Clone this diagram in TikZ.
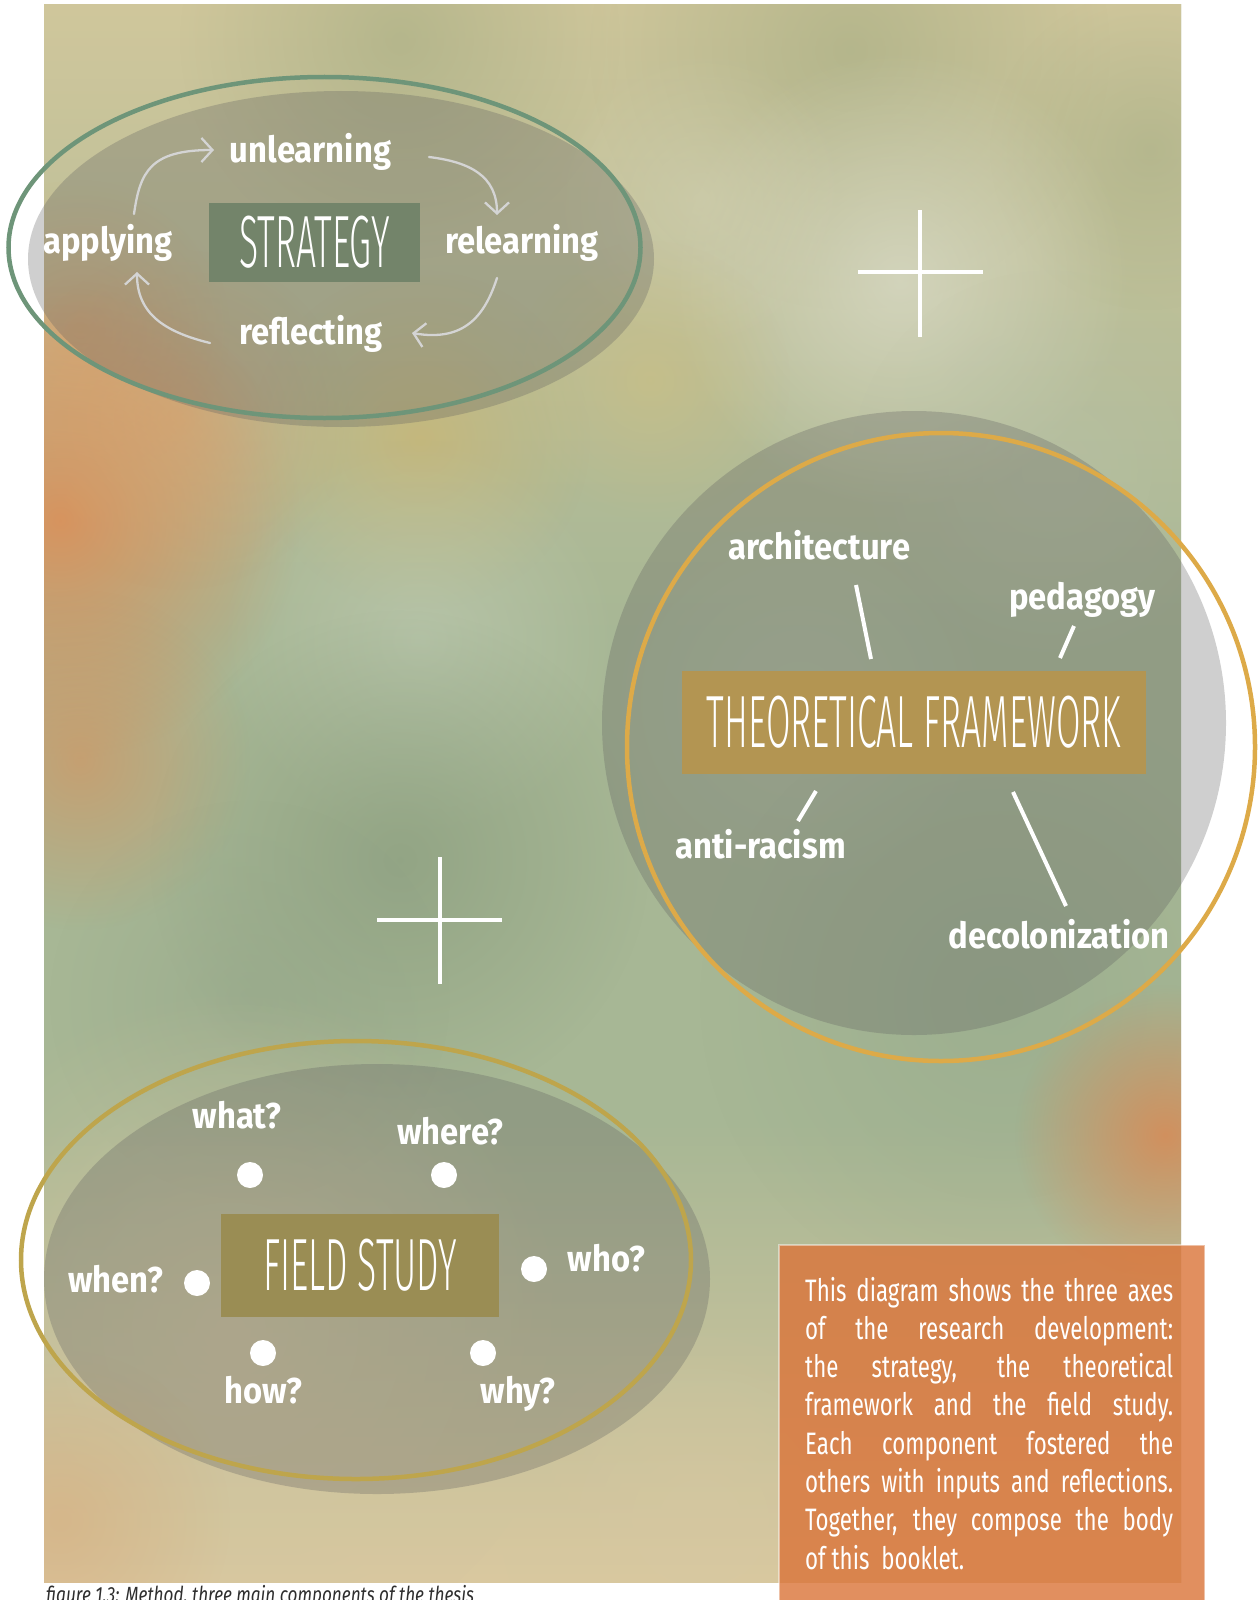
\documentclass[tikz,border=0pt]{standalone}
\usepackage{fontspec}
\setmainfont{Fira Sans}
\newfontfamily\lblfont[FakeStretch=0.91]{Fira Sans}
\newfontfamily\ttlfont[FakeStretch=0.48]{Fira Sans Light}
\newfontfamily\bodyfont[FakeStretch=0.72]{Fira Sans}
\newfontfamily\capfont[FakeStretch=0.78]{Fira Sans}
\usetikzlibrary{arrows.meta,fadings}

\tikzfading[name=blob, inner color=transparent!0, outer color=transparent!100]
\tikzfading[name=fadedown, top color=transparent!0, bottom color=transparent!100]
\tikzfading[name=fadeup, top color=transparent!100, bottom color=transparent!0]

% palette
\definecolor{stratbox}{HTML}{73846A}
\definecolor{stratring}{HTML}{6E9579}
\definecolor{tfbox}{HTML}{B39552}
\definecolor{tfring}{HTML}{DDAA48}
\definecolor{fsbox}{HTML}{9A8D54}
\definecolor{fsring}{HTML}{BEA54C}
\definecolor{shadowgrey}{HTML}{606060}
\definecolor{arrowgrey}{HTML}{D4D4D4}
\definecolor{noteorange}{HTML}{DA763C}
% watercolour tones
\definecolor{wcBase}{HTML}{A7B795}
\definecolor{wcTop}{HTML}{D0C79C}
\definecolor{wcBottom}{HTML}{DBC9A0}
\definecolor{wcOlive}{HTML}{A5AC82}
\definecolor{wcMistA}{HTML}{DCDDCB}
\definecolor{wcMistB}{HTML}{D6D4B8}
\definecolor{wcOrange}{HTML}{DE8D55}
\definecolor{wcPeach}{HTML}{DDA06A}
\definecolor{wcOchre}{HTML}{D2B468}
\definecolor{wcCream}{HTML}{D8C078}
\definecolor{wcMint}{HTML}{C0CCB4}
\definecolor{wcGreenD}{HTML}{8A9D7E}
\definecolor{wcGreen}{HTML}{92A488}
\definecolor{wcGreenR}{HTML}{96AA8C}
\definecolor{wcSageL}{HTML}{B8C2AA}
\definecolor{wcRust}{HTML}{D98A55}
\definecolor{wcTanO}{HTML}{D8AD7E}
\definecolor{wcTanL}{HTML}{D6C8A2}
\definecolor{wcStone}{HTML}{D2C6A0}

\tikzset{
  shadowfill/.style={fill=shadowgrey, fill opacity=0.3},
  ring/.style={draw=#1, line width=4.5pt},
  titlebox/.style={fill=#1, text=white, inner sep=0pt,
    font=\ttlfont\fontsize{74}{80}\selectfont},
  lbl/.style={text=white, inner sep=0pt, anchor=base,
    font=\lblfont\bfseries\fontsize{36}{40}\selectfont},
  cyc/.style={draw=arrowgrey, line width=2.3pt, line cap=round,
    -{Straight Barb[length=11pt,width=24pt,line width=2.3pt]}},
  spoke/.style={draw=white, line width=4pt},
  dot/.style={circle, fill=white, minimum size=26pt, inner sep=0pt},
  crossline/.style={draw=white, line width=4.5pt},
}

\begin{document}
\begin{tikzpicture}[x=1pt,y=-1pt]
\useasboundingbox (0,0) rectangle (1260,1600);

% ---------- watercolour backdrop ----------
\begin{scope}
  \clip (44,5) rectangle (1181,1582);
  \fill[wcBase] (40,0) rectangle (1185,1590);
  \fill[wcTop, path fading=fadedown] (40,0) rectangle (1185,640);
  \fill[wcBottom, path fading=fadeup] (40,1120) rectangle (1185,1590);
  \foreach \x/\y/\r/\c/\o in {
      400/40/220/wcOlive/0.6,
      850/50/260/wcOlive/0.6,
      1150/150/160/wcOlive/0.5,
      900/280/230/wcMistA/0.7,
      700/200/150/wcMistB/0.5,
      1050/470/200/wcSageL/0.5,
      80/330/150/wcPeach/0.6,
      60/520/240/wcOrange/0.85,
      180/420/170/wcPeach/0.55,
      80/760/170/wcOrange/0.55,
      420/440/170/wcOchre/0.55,
      650/380/140/wcCream/0.4,
      420/640/200/wcMint/0.6,
      800/700/200/wcSageL/0.45,
      400/860/250/wcGreenD/0.7,
      250/1000/200/wcGreen/0.5,
      1000/1000/300/wcGreenR/0.6,
      230/1330/340/wcStone/0.8,
      1165/1135/150/wcRust/0.85,
      60/1520/170/wcTanO/0.6,
      700/1520/200/wcTanL/0.5}
    \fill[\c, fill opacity=\o, path fading=blob] (\x,\y) circle[radius=\r];
\end{scope}

% ---------- plus signs ----------
\draw[crossline] (920,210) -- (920,337);
\draw[crossline] (858,272) -- (983,272);
\draw[crossline] (440,857) -- (440,984);
\draw[crossline] (377,920) -- (502,920);

% ---------- strategy ----------
\fill[shadowfill] (341,259) ellipse[x radius=313, y radius=168];
\draw[ring=stratring] (324.5,247.5) ellipse[x radius=316, y radius=170.5];
\node[titlebox=stratbox, minimum width=211pt, minimum height=79pt]
  (strategy) at (314.5,242.5) {STRATEGY};
\node[lbl] (unlearning) at (310.5,162) {unlearning};
\node[lbl] (relearning) at (522,253) {relearning};
\node[lbl] (reflecting) at (311,344) {reflecting};
\node[lbl] (applying) at (108,253) {applying};

\coordinate (a1s) at (134,214); \coordinate (a1e) at (214,150);
\coordinate (a2s) at (429,157); \coordinate (a2e) at (497,215);
\coordinate (a3s) at (497,278); \coordinate (a3e) at (412,333);
\coordinate (a4s) at (210,343); \coordinate (a4e) at (137,272);
\draw[cyc] (a1s) .. controls (140,172) and (150,150) .. (a1e);
\draw[cyc] (a2s) .. controls (470,162) and (497,176) .. (a2e);
\draw[cyc] (a3s) .. controls (485,315) and (465,342) .. (a3e);
\draw[cyc] (a4s) .. controls (165,332) and (137,314) .. (a4e);

% ---------- theoretical framework ----------
\fill[shadowfill] (914,723) circle[radius=312];
\draw[ring=tfring] (941,747) circle[radius=314];
\node[titlebox=tfbox, minimum width=464pt, minimum height=103pt]
  (framework) at (914,722.5) {THEORETICAL FRAMEWORK};
\node[lbl] (architecture) at (819.5,559) {architecture};
\node[lbl] (pedagogy) at (1082.5,609) {pedagogy};
\node[lbl] (antiracism) at (760.5,858) {anti-racism};
\node[lbl] (decolonization) at (1059,948) {decolonization};

\coordinate (s1a) at (856,585);  \coordinate (s1b) at (871,659);
\coordinate (s2a) at (1074,626); \coordinate (s2b) at (1060,658);
\coordinate (s3a) at (816,791);  \coordinate (s3b) at (798,821);
\coordinate (s4a) at (1013,792); \coordinate (s4b) at (1066,906);
\draw[spoke] (s1a) -- (s1b);
\draw[spoke] (s2a) -- (s2b);
\draw[spoke] (s3a) -- (s3b);
\draw[spoke] (s4a) -- (s4b);

% ---------- field study ----------
\fill[shadowfill] (377,1279) ellipse[x radius=333, y radius=215];
\draw[ring=fsring] (356,1260) ellipse[x radius=335, y radius=219];
\node[titlebox=fsbox, minimum width=278pt, minimum height=103pt]
  (fieldstudy) at (360,1265) {FIELD STUDY};

\node[dot] (dwhat)  at (250,1175) {};
\node[dot] (dwhere) at (444,1175) {};
\node[dot] (dwhen)  at (197,1283) {};
\node[dot] (dwho)   at (534,1269) {};
\node[dot] (dhow)   at (263,1353) {};
\node[dot] (dwhy)   at (483,1353) {};

\node[lbl] (what)  at (237,1128) {what?};
\node[lbl] (where) at (450.5,1144) {where?};
\node[lbl] (when)  at (116,1292) {when?};
\node[lbl] (who)   at (606.5,1271) {who?};
\node[lbl] (how)   at (263.5,1403) {how?};
\node[lbl] (why)   at (518,1403) {why?};

% ---------- note box ----------
\node[fill=noteorange, fill opacity=0.82, draw=white, draw opacity=0.45,
      line width=1.5pt, minimum width=426pt, minimum height=356pt,
      inner sep=0pt] (notebox) at (992,1423) {};
\node[anchor=base west, inner sep=0pt, text=white] (notetext) at (805,1301)
  {\parbox[t]{368pt}{\bodyfont\fontsize{31}{38.3}\selectfont
   \makebox[368pt][s]{This diagram shows the three axes}\\
   \makebox[368pt][s]{of the research development:}\\
   \makebox[368pt][s]{the strategy, the theoretical}\\
   \makebox[368pt][s]{framework and the field study.}\\
   \makebox[368pt][s]{Each component fostered the}\\
   \makebox[368pt][s]{others with inputs and reflections.}\\
   \makebox[368pt][s]{Together, they compose the body}\\
   \makebox[368pt][l]{of this\ \ booklet.}}};

% ---------- caption ----------
\node[anchor=base west, inner sep=0pt, text=black!82,
      font=\capfont\itshape\fontsize{22}{24}\selectfont] (caption) at (46,1602)
  {figure 1.3: Method, three main components of the thesis};
\end{tikzpicture}
\end{document}
